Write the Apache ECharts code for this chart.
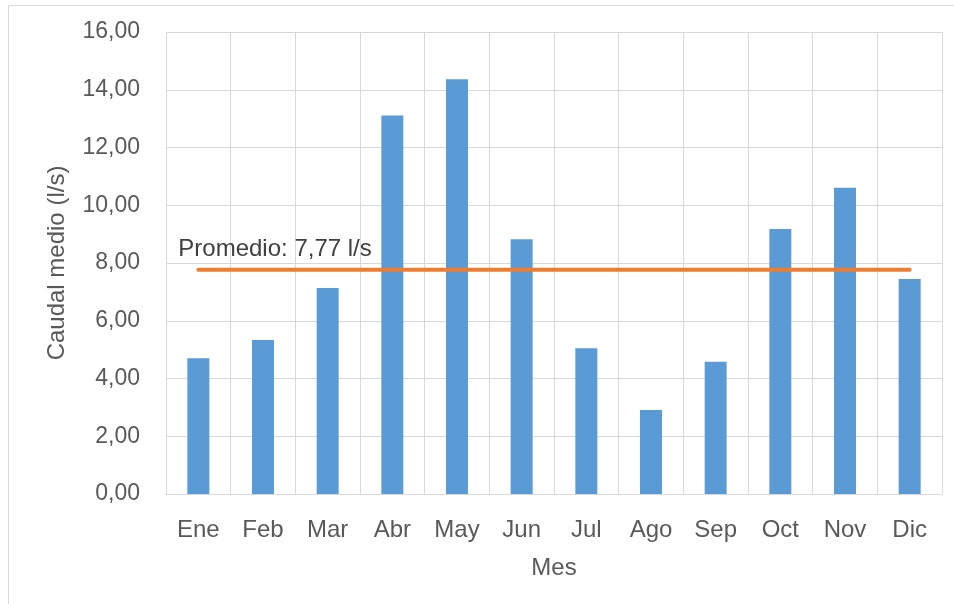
<!DOCTYPE html>
<html>
<head>
<meta charset="utf-8">
<script src="https://cdn.jsdelivr.net/npm/echarts@6/dist/echarts.min.js"></script>
<style>
  html, body { margin: 0; padding: 0; background: #fff; }
  #main { width: 954px; height: 604px; }
</style>
</head>
<body>
<div id="main"></div>
<script>
// datos
const meses = ['Ene', 'Feb', 'Mar', 'Abr', 'May', 'Jun', 'Jul', 'Ago', 'Sep', 'Oct', 'Nov', 'Dic']
const caudal = [4.70, 5.33, 7.13, 13.11, 14.36, 8.82, 5.05, 2.91, 4.58, 9.18, 10.61, 7.45]
const promedio = 7.77
const promedioLinea = meses.map(() => promedio)

const gris = '#595959'
const fuente = 'Liberation Sans, Arial, sans-serif'
const coma = v => v.toFixed(2).replace('.', ',')

const myChart = echarts.init(document.getElementById('main'))

const option = {
  animation: false,
  backgroundColor: '#fff',
  graphic: [{
    type: 'rect',
    shape: { x: 8.5, y: 5.5, width: 960, height: 620 },
    style: { fill: 'none', stroke: '#D9D9D9', lineWidth: 1 },
    silent: true
  }],
  grid: { left: 166, right: 12, top: 32, bottom: 110 },
  xAxis: {
    type: 'category',
    data: meses,
    name: 'Mes',
    nameLocation: 'middle',
    nameGap: 62,
    nameTextStyle: { color: gris, fontSize: 24, fontFamily: fuente },
    axisLine: { lineStyle: { color: '#D9D9D9' } },
    axisTick: { show: false },
    axisLabel: { color: gris, fontSize: 24, fontFamily: fuente, margin: 24 },
    splitLine: { show: true, lineStyle: { color: '#D9D9D9', width: 1 } }
  },
  yAxis: {
    type: 'value',
    min: 0,
    max: 16,
    interval: 2,
    name: 'Caudal medio (l/s)',
    nameLocation: 'middle',
    nameGap: 97,
    nameTextStyle: { color: gris, fontSize: 24, fontFamily: fuente },
    axisLine: { show: true, lineStyle: { color: '#D9D9D9' } },
    axisTick: { show: false },
    axisLabel: {
      color: gris, fontSize: 23, fontFamily: fuente, margin: 26,
      formatter: coma
    },
    splitLine: { lineStyle: { color: '#D9D9D9', width: 1 } }
  },
  series: [
    {
      name: 'Caudal',
      type: 'bar',
      data: caudal,
      barWidth: '34%',
      itemStyle: { color: '#5B9BD5' }
    },
    {
      name: 'Promedio',
      type: 'line',
      data: promedioLinea.map((v, i) => i === 0 ? {
        value: v,
        label: {
          show: true,
          position: 'top',
          align: 'left',
          offset: [-20, -3],
          formatter: 'Promedio: ' + coma(promedio) + ' l/s',
          color: '#404040',
          fontSize: 24,
          fontFamily: fuente
        }
      } : v),
      symbol: 'circle',
      symbolSize: 0,
      showAllSymbol: true,
      lineStyle: { color: '#ED7D31', width: 4, cap: 'round' },
      z: 3
    }
  ]
}

myChart.setOption(option)
</script>
</body>
</html>
